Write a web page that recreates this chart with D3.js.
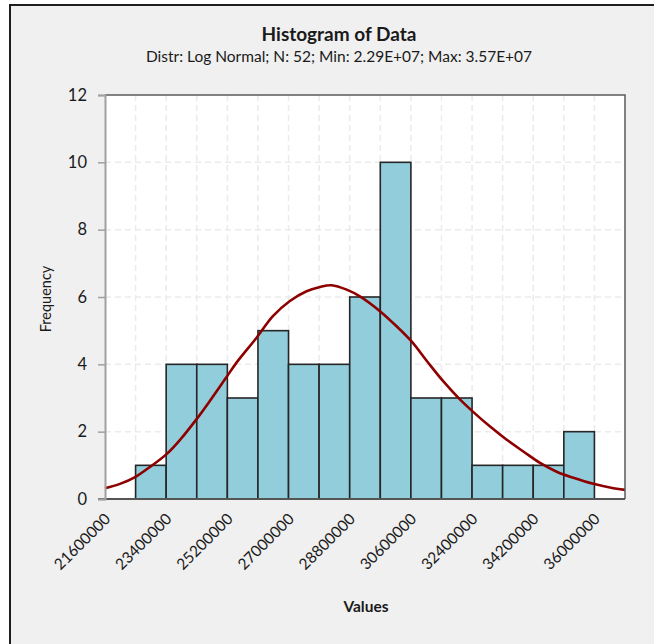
<!DOCTYPE html>
<html>
<head>
<meta charset="utf-8">
<script src="https://cdn.jsdelivr.net/npm/d3@7"></script>
<style>
  html, body { margin: 0; padding: 0; background: #ffffff; }
  svg { display: block; }
  text { font-family: Lato, "Open Sans", "Liberation Sans", sans-serif; fill: #1a1a1a; }
</style>
</head>
<body>
<svg id="chart" width="654" height="644"></svg>
<script>
// Histogram bins: lower edge of each bin and its count
const binWidth = 900000;
const binStarts = [22500000, 23400000, 24300000, 25200000, 26100000, 27000000, 27900000,
                   28800000, 29700000, 30600000, 31500000, 32400000, 33300000, 34200000, 35100000];
const counts = [1, 4, 4, 3, 5, 4, 4, 6, 10, 3, 3, 1, 1, 1, 2];

// Fitted log-normal density, expressed as expected frequency per bin
const fitValues = [21600000, 22040000, 22500000, 22920000, 23420000, 23810000, 24300000, 24690000,
                   25160000, 25470000, 26060000, 26540000, 27040000, 27530000, 27930000, 28270000,
                   28710000, 29100000, 29690000, 30180000, 30620000, 31070000, 31550000, 32050000,
                   32440000, 32930000, 33420000, 33910000, 34400000, 34890000, 35380000, 35970000,
                   36560000, 36900000];
const fitFreq = [0.32, 0.45, 0.66, 0.95, 1.34, 1.76, 2.38, 2.92,
                 3.60, 4.05, 4.79, 5.43, 5.88, 6.17, 6.30, 6.35,
                 6.22, 6.02, 5.58, 5.13, 4.68, 4.10, 3.50, 2.95,
                 2.58, 2.15, 1.76, 1.41, 1.07, 0.81, 0.63, 0.45,
                 0.32, 0.27];

// Axis ticks
const xTicks = [21600000, 23400000, 25200000, 27000000, 28800000, 30600000, 32400000, 34200000, 36000000];
const yTicks = [0, 2, 4, 6, 8, 10, 12];

const title = "Histogram of Data";
const subtitle = "Distr: Log Normal; N: 52; Min: 2.29E+07; Max: 3.57E+07";
const xTitle = "Values";
const yTitle = "Frequency";

const svg = d3.select("#chart");
const W = 654, H = 644;
const plot = { left: 105, right: 625, top: 95, bottom: 499 };

// Outer panel
svg.append("rect")
  .attr("x", 10).attr("y", 5).attr("width", W).attr("height", H)
  .attr("fill", "#f0f0f0");
svg.append("path")
  .attr("d", `M10,${H} L10,5 L${W},5`)
  .attr("fill", "none").attr("stroke", "#1e1e1e").attr("stroke-width", 2);

const x = d3.scaleLinear().domain([21600000, 36900000]).range([plot.left, plot.right]);
const y = d3.scaleLinear().domain([0, 12]).range([plot.bottom, plot.top]);

// Plot background
svg.append("rect")
  .attr("x", plot.left).attr("y", plot.top)
  .attr("width", plot.right - plot.left).attr("height", plot.bottom - plot.top)
  .attr("fill", "#ffffff");

// Dashed grid
const grid = svg.append("g").attr("stroke", "#ebebeb").attr("stroke-width", 1.5)
  .attr("stroke-dasharray", "6,4");
grid.selectAll("line.h").data(yTicks.filter(d => d > 0 && d < 12)).join("line")
  .attr("x1", plot.left).attr("x2", plot.right)
  .attr("y1", d => y(d)).attr("y2", d => y(d));
grid.selectAll("line.v").data(binStarts.concat([binStarts[binStarts.length - 1] + binWidth])).join("line")
  .attr("x1", d => x(d)).attr("x2", d => x(d))
  .attr("y1", plot.top).attr("y2", plot.bottom);

// Bars
svg.append("g").selectAll("rect").data(binStarts).join("rect")
  .attr("x", d => x(d))
  .attr("y", (d, i) => y(counts[i]))
  .attr("width", d => x(d + binWidth) - x(d))
  .attr("height", (d, i) => y(0) - y(counts[i]))
  .attr("fill", "#92cddc")
  .attr("stroke", "#262626")
  .attr("stroke-width", 1.6);

// Fitted curve
const line = d3.line()
  .x((d, i) => x(fitValues[i]))
  .y(d => y(d))
  .curve(d3.curveCatmullRom.alpha(0.5));
svg.append("path")
  .datum(fitFreq)
  .attr("d", line)
  .attr("fill", "none")
  .attr("stroke", "#8e0000")
  .attr("stroke-width", 2.6)
  .attr("stroke-linejoin", "round");

// Plot frame: grey value axis, dark edges elsewhere
svg.append("path")
  .attr("d", `M${plot.left},${plot.top} L${plot.right},${plot.top} L${plot.right},${plot.bottom}`)
  .attr("fill", "none").attr("stroke", "#5a5a5a").attr("stroke-width", 1.5);
svg.append("line")
  .attr("x1", plot.left - 7).attr("x2", plot.right)
  .attr("y1", plot.bottom).attr("y2", plot.bottom)
  .attr("stroke", "#555").attr("stroke-width", 2);

// Y axis
const yAxis = d3.axisLeft(y).tickValues(yTicks).tickSize(7).tickPadding(11);
const gy = svg.append("g").attr("transform", `translate(${plot.left},0)`).call(yAxis);
gy.select(".domain").attr("stroke", "#a0a0a0").attr("stroke-width", 2);
gy.selectAll(".tick line").attr("stroke", "#a0a0a0").attr("stroke-width", 1.5);
gy.selectAll(".tick text")
  .attr("font-family", "Lato, 'Open Sans', sans-serif")
  .attr("font-size", 16.5).attr("fill", "#1a1a1a");

// X axis labels, rotated
const xAxis = d3.axisBottom(x).tickValues(xTicks).tickSize(0).tickFormat(d3.format("d"));
const gx = svg.append("g").attr("transform", `translate(0,${plot.bottom})`).call(xAxis);
gx.select(".domain").remove();
gx.selectAll(".tick text")
  .attr("font-family", "Lato, 'Open Sans', sans-serif")
  .attr("font-size", 15.5).attr("fill", "#1a1a1a")
  .attr("text-anchor", "end")
  .attr("dy", "0.35em")
  .attr("transform", "translate(0,15) rotate(-45)");

// Titles
svg.append("text")
  .attr("x", 339).attr("y", 41)
  .attr("text-anchor", "middle")
  .attr("font-size", 19).attr("font-weight", "bold")
  .text(title);
svg.append("text")
  .attr("x", 339).attr("y", 62)
  .attr("text-anchor", "middle")
  .attr("font-size", 15.5)
  .text(subtitle);
svg.append("text")
  .attr("x", 366).attr("y", 612)
  .attr("text-anchor", "middle")
  .attr("font-size", 15.5).attr("font-weight", "bold")
  .text(xTitle);
svg.append("text")
  .attr("transform", "translate(51,299) rotate(-90)")
  .attr("text-anchor", "middle")
  .attr("font-size", 14.5)
  .text(yTitle);
</script>
</body>
</html>
